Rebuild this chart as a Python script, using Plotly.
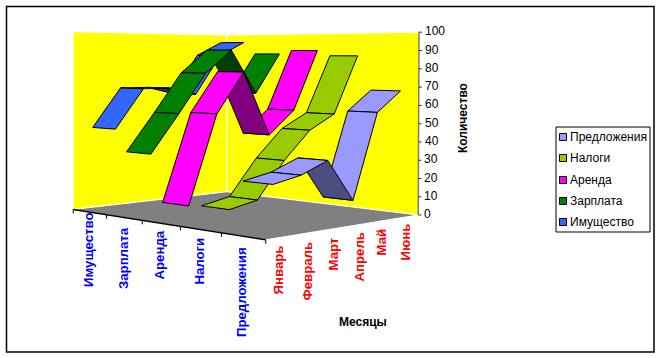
import numpy as np
import plotly.graph_objects as go

months = ["Январь", "Февраль", "Март", "Апрель", "Май", "Июнь"]
series = ["Предложения", "Налоги", "Аренда", "Зарплата", "Имущество"]
predlozheniya = [25, 28, 34, 12, 57, 68]
nalogi = [10, 13, 32, 47, 55, 87]
arenda = [9, 56, 78, 43, 56, 90]
zarplata = [34, 55, 77, 90, 65, 88]
imushchestvo = [46, 68, 68, 64, 87, 95]
values = [predlozheniya, nalogi, arenda, zarplata, imushchestvo]
value_ticks = list(range(0, 101, 10))

light = ["#9999FF", "#99CC00", "#FF00FF", "#008000", "#3366FF"]
dark = ["#4D4D80", "#4D6600", "#800080", "#004000", "#1A3380"]
FONT = "Liberation Sans"

# calibration of the perspective box: (month, series, value) fractions -> page position
BOX = [((0, 0, 0), (266, 240)), ((1, 0, 0), (418, 215)), ((0, 1, 0), (73, 209)),
       ((1, 1, 0), (227, 192)), ((1, 0, 1), (419, 32)), ((0, 1, 1), (73, 32)), ((1, 1, 1), (227, 35))]
A, b = [], []
for (u, v, w), (x, y) in BOX:
    A.append([u, v, w, 1, 0, 0, 0, 0, -x * u, -x * v, -x * w]); b.append(x)
    A.append([0, 0, 0, 0, u, v, w, 1, -y * u, -y * v, -y * w]); b.append(y)
p = np.linalg.lstsq(np.array(A, float), np.array(b, float), rcond=None)[0]


def proj(u, v, w):
    d = p[8] * u + p[9] * v + p[10] * w + 1
    return float((p[0] * u + p[1] * v + p[2] * w + p[3]) / d), float((p[4] * u + p[5] * v + p[6] * w + p[7]) / d)


def poly(fig, pts, fill, line="black", width=1):
    xs = [q[0] for q in pts] + [pts[0][0]]
    ys = [q[1] for q in pts] + [pts[0][1]]
    fig.add_trace(go.Scatter(x=xs, y=ys, mode="lines", fill="toself", fillcolor=fill,
                             line=dict(color=line, width=width), hoverinfo="skip", showlegend=False))


def seg(fig, pts, color, width=1):
    fig.add_trace(go.Scatter(x=[q[0] for q in pts], y=[q[1] for q in pts], mode="lines",
                             line=dict(color=color, width=width), hoverinfo="skip", showlegend=False))


fig = go.Figure()
# walls and floor
poly(fig, [proj(0, 1, 0), proj(0, 1, 1), proj(1, 1, 1), proj(1, 1, 0)], "#FFFF00", "white")
poly(fig, [proj(1, 1, 0), proj(1, 1, 1), proj(1, 0, 1), proj(1, 0, 0)], "#FFFF00", "white")
poly(fig, [proj(0, 0, 0), proj(1, 0, 0), proj(1, 1, 0), proj(0, 1, 0)], "#808080", "white")

# ribbons, back to front
D = 0.068
for k in range(4, -1, -1):
    vc = (k + 0.5) / 5
    for m in range(4, -1, -1):
        u0, u1 = (m + 0.5) / 6, (m + 1.5) / 6
        w0, w1 = values[k][m] / 100, values[k][m + 1] / 100
        q = [proj(u0, vc - D, w0), proj(u1, vc - D, w1), proj(u1, vc + D, w1), proj(u0, vc + D, w0)]
        area = sum(q[i][0] * q[(i + 1) % 4][1] - q[(i + 1) % 4][0] * q[i][1] for i in range(4))
        poly(fig, q, dark[k] if area > 0 else light[k])

# axes
seg(fig, [proj(0, 1, 0), proj(0, 0, 0)], "black", 1.5)
for k in range(6):
    x, y = proj(0, k / 5, 0)
    seg(fig, [(x, y), (x, y + 4)], "black", 1)
seg(fig, [proj(1, 0, 0), proj(1, 0, 1)], "#7F7F60", 1.5)
ann = []
for t in value_ticks:
    x, y = proj(1, 0, t / 100)
    seg(fig, [(x, y), (x + 3, y)], "#333333", 1)
    ann.append(dict(x=x + 5, y=y - 1, text=str(t), xanchor="left", yanchor="middle",
                    font=dict(family=FONT, size=12, color="black")))

series_labels = [(88, 212), (123, 226), (159, 230), (199, 237), (241, 246)]
for name, (x, y) in zip(series[::-1], series_labels):
    ann.append(dict(x=x, y=y, text="<b>%s</b>" % name, textangle=-90, xanchor="center", yanchor="top",
                    font=dict(family=FONT, size=13.2, color="#0000FF")))
month_labels = [(278, 245), (307, 241), (333, 237), (359, 232), (381, 228), (405, 223)]
for name, (x, y) in zip(months, month_labels):
    ann.append(dict(x=x, y=y, text="<b>%s</b>" % name, textangle=-90, xanchor="center", yanchor="top",
                    font=dict(family=FONT, size=13.2, color="#FF0000")))
ann.append(dict(x=463, y=118, text="<b>Количество</b>", textangle=-90, xanchor="center", yanchor="middle",
                font=dict(family=FONT, size=12, color="black")))
ann.append(dict(x=363, y=322, text="<b>Месяцы</b>", xanchor="center", yanchor="middle",
                font=dict(family=FONT, size=12, color="black")))

# legend
fig.add_shape(type="rect", x0=556, y0=127, x1=650, y1=232, line=dict(color="black", width=1),
              fillcolor="white", layer="below")
legend_y = [137, 158, 180, 201, 222]
for name, c, y in zip(series, light, legend_y):
    fig.add_trace(go.Scatter(x=[563], y=[y], mode="markers", hoverinfo="skip", showlegend=False,
                             marker=dict(symbol="square", size=7, color=c, line=dict(color="black", width=1))))
    ann.append(dict(x=569, y=y, text=name, xanchor="left", yanchor="middle",
                    font=dict(family=FONT, size=12, color="black")))

# chart border
fig.add_shape(type="rect", x0=6.5, y0=6.5, x1=654, y1=352, line=dict(color="black", width=1.5), layer="below")

fig.update_layout(width=661, height=358, margin=dict(l=0, r=0, t=0, b=0), paper_bgcolor="white",
                  plot_bgcolor="white", showlegend=False,
                  xaxis=dict(range=[0, 661], visible=False, fixedrange=True),
                  yaxis=dict(range=[358, 0], visible=False, fixedrange=True))
for a in ann:
    a.update(xref="x", yref="y", showarrow=False, borderpad=0)
    fig.add_annotation(**a)
fig.write_html("out.html", post_script="document.body.style.margin='0';", config={"displayModeBar": False})
